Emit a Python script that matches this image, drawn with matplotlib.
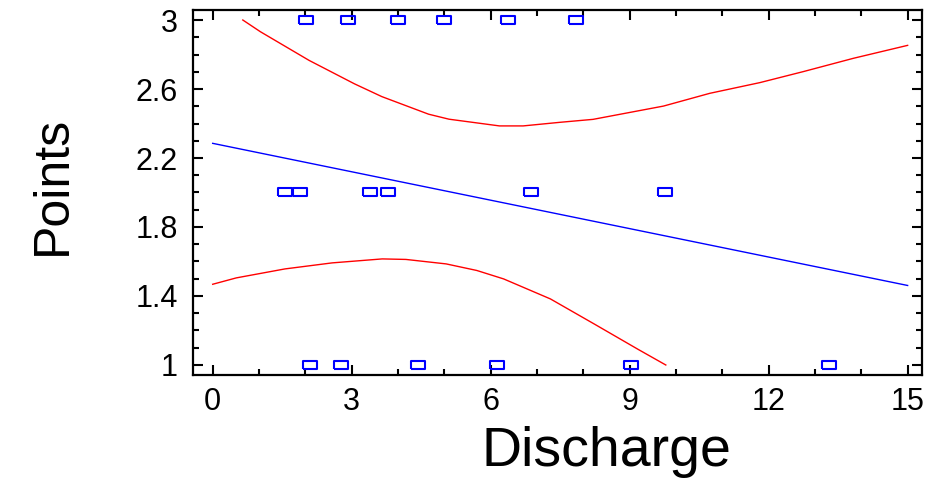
import matplotlib
matplotlib.use('Agg')
import matplotlib.pyplot as plt
from matplotlib.ticker import MultipleLocator

# observed points (Discharge vs Points)
x_pts3 = [2.02, 2.92, 4.00, 5.00, 6.38, 7.84]
x_pts2 = [1.56, 1.89, 3.40, 3.78, 6.87, 9.76]
x_pts1 = [2.11, 2.77, 4.44, 6.13, 9.03, 13.30]

# fitted line
fit_x = [0.0, 15.0]
fit_y = [2.285, 1.461]

# upper limit curve
up_x = [0.65, 1.03, 2.08, 3.06, 3.65, 4.66, 5.10, 6.19, 6.70, 7.50, 8.21, 9.73,
        10.73, 11.81, 12.75, 13.83, 15.0]
up_y = [3.0, 2.932, 2.766, 2.630, 2.556, 2.454, 2.425, 2.386, 2.386, 2.407, 2.424,
        2.501, 2.575, 2.637, 2.701, 2.778, 2.853]

# lower limit curve
lo_x = [0.0, 0.51, 1.56, 2.58, 3.66, 4.17, 5.04, 5.70, 6.28, 7.29, 8.24, 9.18, 9.78]
lo_y = [1.468, 1.505, 1.557, 1.592, 1.615, 1.612, 1.586, 1.548, 1.499, 1.383,
        1.237, 1.091, 1.0]

xticks = [0, 3, 6, 9, 12, 15]
yticks = [1.0, 1.4, 1.8, 2.2, 2.6, 3.0]
ytick_labels = ['1', '1.4', '1.8', '2.2', '2.6', '3']

plt.rcParams['font.family'] = ['Liberation Sans', 'DejaVu Sans']

fig = plt.figure(figsize=(9.34, 4.78), dpi=100)
ax = fig.add_axes([193/934, 1 - 375/478, (922 - 193)/934, (375 - 10)/478])

rect = [(-1, -0.5), (1, -0.5), (1, 0.5), (-1, 0.5), (-1, -0.5)]

ax.plot(lo_x, lo_y, color='#ff0000', lw=1.0)
ax.plot(up_x, up_y, color='#ff0000', lw=1.0)
ax.plot(fit_x, fit_y, color='#0000ff', lw=1.0)
for xs, yv in [(x_pts3, 3), (x_pts2, 2), (x_pts1, 1)]:
    ax.plot(xs, [yv] * len(xs), linestyle='none', marker=rect, markersize=10.5,
            mfc='none', mec='#0000ff', mew=1.5)

ax.set_xlim(-0.425, 15.31)
ax.set_ylim(0.942, 3.058)

ax.set_xticks(xticks)
ax.set_xticklabels([str(t) for t in xticks])
ax.xaxis.set_minor_locator(MultipleLocator(1))
ax.set_yticks(yticks)
ax.set_yticklabels(ytick_labels)
ax.yaxis.set_minor_locator(MultipleLocator(0.1))

ax.tick_params(which='both', direction='in', top=True, right=True, width=1.5, labelsize=22)
ax.tick_params(which='major', length=7)
ax.tick_params(which='minor', length=4.5)
ax.tick_params(axis='x', pad=9)
ax.tick_params(axis='y', pad=11)
for s in ax.spines.values():
    s.set_linewidth(1.6)

ax.set_xlabel('Discharge', fontsize=40)
ax.xaxis.set_label_coords(0.567, -0.14)
ax.set_ylabel('Points', fontsize=36)
ax.yaxis.set_label_coords(-0.16, 0.52)

fig.savefig('out.png', dpi=100)
